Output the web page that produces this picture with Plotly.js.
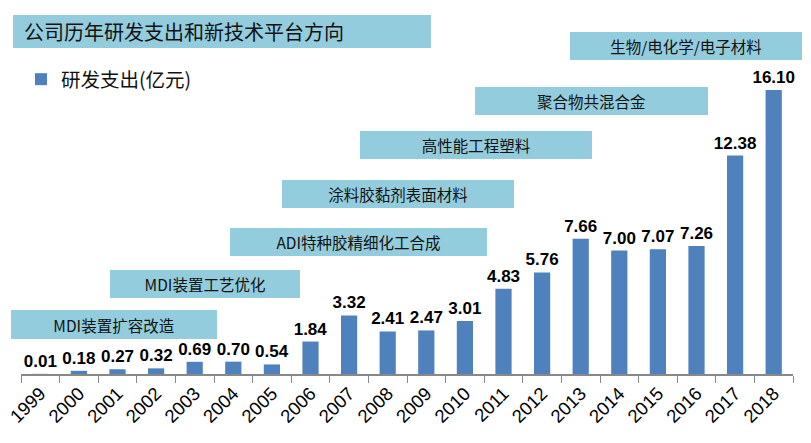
<!DOCTYPE html>
<html>
<head>
<meta charset="utf-8">
<script src="https://cdn.plot.ly/plotly-3.0.1.min.js"></script>
<style>
  html, body { margin: 0; padding: 0; background: #fff; }
  #chart { width: 811px; height: 443px; }
</style>
</head>
<body>
<div id="chart"></div>
<script>
const years = ['1999', '2000', '2001', '2002', '2003', '2004', '2005', '2006', '2007', '2008',
               '2009', '2010', '2011', '2012', '2013', '2014', '2015', '2016', '2017', '2018'];
const rdSpend = [0.01, 0.18, 0.27, 0.32, 0.69, 0.70, 0.54, 1.84, 3.32, 2.41,
                 2.47, 3.01, 4.83, 5.76, 7.66, 7.00, 7.07, 7.26, 12.38, 16.10];
const seriesName = '研发支出(亿元)';
const chartTitle = '公司历年研发支出和新技术平台方向';
const platforms = ['MDI装置扩容改造', 'MDI装置工艺优化', 'ADI特种胶精细化工合成',
                   '涂料胶黏剂表面材料', '高性能工程塑料', '聚合物共混合金', '生物/电化学/电子材料'];

const W = 811, H = 443;
const mL = 21, mR = 18, mT = 0, mB = 69;
const plotW = W - mL - mR, plotH = H - mT - mB;
const px = x => (x - mL) / plotW;
const py = y => 1 - (y - mT) / plotH;

// box positions in pixels: [left, top, width, height]
const boxes = [
    [11, 310, 206, 29],
    [110, 270, 190, 28],
    [230, 228, 257, 28],
    [282, 180, 232, 28],
    [360, 131, 232, 28],
    [475, 87, 233, 28],
    [570, 32, 232, 28],
];

const cjk = '"Noto Sans CJK SC", "Noto Sans", sans-serif';
const boxColor = '#93CDDD';

const annotations = platforms.map((t, i) => {
    const b = boxes[i];
    return {
        text: t, xref: 'paper', yref: 'paper',
        x: px(b[0]), y: py(b[1]), xanchor: 'left', yanchor: 'top',
        width: b[2], height: b[3], borderpad: 0, borderwidth: 0,
        bgcolor: boxColor, showarrow: false, align: 'center', valign: 'middle',
        font: { family: cjk, size: 15.5, color: '#111' }
    };
});
// title: box drawn as a shape, text placed with some left padding
annotations.push({
    text: chartTitle, xref: 'paper', yref: 'paper',
    x: px(22), y: py(31.5), xanchor: 'left', yanchor: 'middle',
    showarrow: false, font: { family: cjk, size: 20, color: '#111' }
});
const shapes = [{
    type: 'rect', xref: 'paper', yref: 'paper', layer: 'below',
    x0: px(13), x1: px(431), y0: py(15), y1: py(48),
    fillcolor: boxColor, line: { width: 0 }
}];

const trace = {
    type: 'bar', x: years, y: rdSpend, name: seriesName,
    marker: { color: '#4F81BD' },
    text: rdSpend.map(v => v.toFixed(2)),
    textposition: 'outside', cliponaxis: false, constraintext: 'none',
    textfont: { family: 'Liberation Sans, Arial, sans-serif', size: 17, color: '#000', weight: 'bold' },
    showlegend: true,
};

Plotly.newPlot('chart', [trace], {
    width: W, height: H,
    margin: { l: mL, r: mR, t: mT, b: mB },
    paper_bgcolor: '#fff', plot_bgcolor: '#fff',
    bargap: 0.58,
    showlegend: true,
    legend: {
        x: px(21), y: py(60), xanchor: 'left', yanchor: 'top',
        font: { family: cjk, size: 19.5, color: '#111' },
        bgcolor: 'rgba(0,0,0,0)', itemwidth: 30
    },
    xaxis: {
        type: 'category', tickangle: -45, tickson: 'boundaries',
        ticks: 'outside', ticklen: 7, tickcolor: '#888',
        showline: true, linecolor: '#888', linewidth: 1.5,
        showgrid: false,
        tickfont: { family: 'Liberation Sans, Arial, sans-serif', size: 18.5, color: '#000' }
    },
    yaxis: { range: [0, 21.2], visible: false, showgrid: false, zeroline: false },
    shapes: shapes,
    annotations: annotations,
}, { displayModeBar: false, staticPlot: true });
</script>
</body>
</html>
